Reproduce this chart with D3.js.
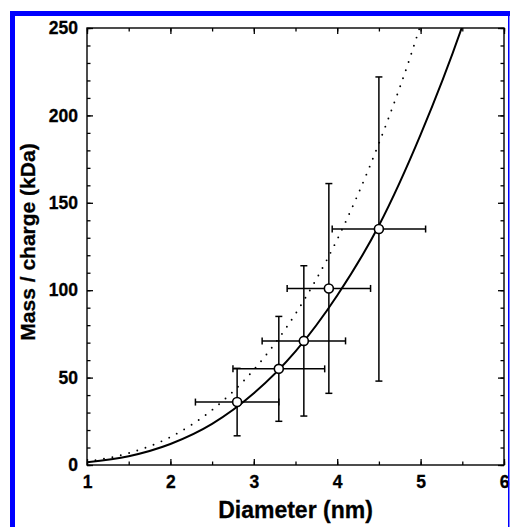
<!DOCTYPE html>
<html>
<head>
<meta charset="utf-8">
<script src="https://cdn.jsdelivr.net/npm/d3@7"></script>
<style>
  body { margin: 0; background: #fff; }
  text { font-family: "Liberation Sans", Arial, sans-serif; font-weight: bold; }
</style>
</head>
<body>
<div id="chart"></div>
<script>
// measured points (diameter nm, mass/charge kDa) with errors
const diam = [2.8, 3.3, 3.6, 3.9, 4.5];
const mass = [36, 55, 71, 101, 135];
const diamErr = [0.5, 0.55, 0.5, 0.5, 0.56];
const massErr = [19.3, 30, 43, 60, 87];

// fitted curves
const solidX = [1, 1.5, 2, 2.5, 3, 3.5, 4, 4.5, 5, 5.5, 5.6];
const solidY = [1.5, 5, 12, 23.5, 41, 65, 97, 137, 189, 251, 265];
const dotX = [1, 1.5, 2, 2.5, 3, 3.5, 4, 4.5, 5, 5.1];
const dotY = [2, 6.8, 16, 31.5, 54.5, 86.5, 129, 184, 252, 268];

const xTicks = [1, 2, 3, 4, 5, 6];
const yTicks = [0, 50, 100, 150, 200, 250];

let margin = {top: 28, right: 6, bottom: 62, left: 87},
  W = 510, H = 527,
  width = W - margin.left - margin.right,
  height = H - margin.top - margin.bottom;

let svg = d3.select("#chart").append("svg")
  .attr("width", W)
  .attr("height", H);

let g = svg.append("g")
  .attr("transform", "translate(" + margin.left + "," + margin.top + ")");

let x = d3.scaleLinear().domain([1, 6]).range([0, width]);
let y = d3.scaleLinear().domain([0, 250]).range([height, 0]);

g.append("clipPath").attr("id", "clip")
  .append("rect").attr("width", width).attr("height", height);

// curves
let line = d3.line().curve(d3.curveMonotoneX);
g.append("path")
  .attr("clip-path", "url(#clip)")
  .attr("d", line(dotX.map((d, i) => [x(d), y(dotY[i])])))
  .attr("fill", "none")
  .attr("stroke", "#000")
  .attr("stroke-width", 1.9)
  .attr("stroke-linecap", "round")
  .attr("stroke-dasharray", "0 8.6");
g.append("path")
  .attr("clip-path", "url(#clip)")
  .attr("d", line(solidX.map((d, i) => [x(d), y(solidY[i])])))
  .attr("fill", "none")
  .attr("stroke", "#000")
  .attr("stroke-width", 2);

// error bars
let pts = diam.map((d, i) => ({x: d, y: mass[i], ex: diamErr[i], ey: massErr[i]}));
let eb = g.append("g").attr("stroke", "#000").attr("stroke-width", 1.5).attr("fill", "none");
let cap = 3.5;
pts.forEach(p => {
  let cx = x(p.x), cy = y(p.y);
  let x0 = x(p.x - p.ex), x1 = x(p.x + p.ex);
  let y0 = y(p.y - p.ey), y1 = y(p.y + p.ey);
  eb.append("line").attr("x1", cx).attr("x2", cx).attr("y1", y0).attr("y2", y1);
  eb.append("line").attr("x1", cx - cap).attr("x2", cx + cap).attr("y1", y0).attr("y2", y0);
  eb.append("line").attr("x1", cx - cap).attr("x2", cx + cap).attr("y1", y1).attr("y2", y1);
  eb.append("line").attr("x1", x0).attr("x2", x1).attr("y1", cy).attr("y2", cy);
  eb.append("line").attr("x1", x0).attr("x2", x0).attr("y1", cy - cap).attr("y2", cy + cap);
  eb.append("line").attr("x1", x1).attr("x2", x1).attr("y1", cy - cap).attr("y2", cy + cap);
});

g.append("g").selectAll("circle")
  .data(pts)
  .join("circle")
  .attr("cx", d => x(d.x))
  .attr("cy", d => y(d.y))
  .attr("r", 4.5)
  .attr("fill", "#fff")
  .attr("stroke", "#000")
  .attr("stroke-width", 1.6);

// axes, ticks pointing inward on all four sides
function styleAxis(sel) {
  sel.select(".domain").remove();
  sel.selectAll(".tick line").attr("stroke", "#000").attr("stroke-width", 1.3);
}
function styleLabels(sel) {
  sel.selectAll("text").attr("font-size", 17.5).attr("fill", "#000")
    .attr("stroke", "#000").attr("stroke-width", 0.3)
    .style("font-family", "'Liberation Sans', Arial, sans-serif").style("font-weight", "bold");
}
let xMinor = d3.range(1, 6.01, 0.5), yMinor = d3.range(0, 250.1, 10);

let xb = g.append("g").attr("transform", "translate(0," + height + ")")
  .call(d3.axisTop(x).tickValues(xMinor).tickSize(3.5).tickFormat(""));
styleAxis(xb);
let xbM = g.append("g").attr("transform", "translate(0," + height + ")")
  .call(d3.axisTop(x).tickValues(xTicks).tickSize(6).tickFormat(""));
styleAxis(xbM);
let xl = g.append("g").attr("transform", "translate(0," + height + ")")
  .call(d3.axisBottom(x).tickValues(xTicks).tickSize(0).tickPadding(11).tickFormat(d3.format("d")));
styleAxis(xl);
styleLabels(xl);

let xt = g.append("g").call(d3.axisBottom(x).tickValues(xMinor).tickSize(3.5).tickFormat(""));
styleAxis(xt);
let xtM = g.append("g").call(d3.axisBottom(x).tickValues(xTicks).tickSize(6).tickFormat(""));
styleAxis(xtM);

let yl = g.append("g").call(d3.axisRight(y).tickValues(yMinor).tickSize(3.5).tickFormat(""));
styleAxis(yl);
let ylM = g.append("g").call(d3.axisRight(y).tickValues(yTicks).tickSize(6).tickFormat(""));
styleAxis(ylM);
let ylab = g.append("g").call(d3.axisLeft(y).tickValues(yTicks).tickSize(0).tickPadding(9).tickFormat(d3.format("d")));
styleAxis(ylab);
styleLabels(ylab);

let yr = g.append("g").attr("transform", "translate(" + width + ",0)")
  .call(d3.axisLeft(y).tickValues(yMinor).tickSize(3.5).tickFormat(""));
styleAxis(yr);
let yrM = g.append("g").attr("transform", "translate(" + width + ",0)")
  .call(d3.axisLeft(y).tickValues(yTicks).tickSize(6).tickFormat(""));
styleAxis(yrM);

g.append("rect")
  .attr("width", width).attr("height", height)
  .attr("fill", "none").attr("stroke", "#000").attr("stroke-width", 1.4);

// titles
svg.append("text")
  .attr("x", margin.left + width / 2)
  .attr("y", 518)
  .attr("text-anchor", "middle")
  .attr("font-size", 23)
  .attr("stroke", "#000").attr("stroke-width", 0.3)
  .text("Diameter (nm)");
svg.append("text")
  .attr("transform", "translate(35,242) rotate(-90)")
  .attr("text-anchor", "middle")
  .attr("font-size", 21)
  .attr("stroke", "#000").attr("stroke-width", 0.3)
  .text("Mass / charge (kDa)");

// blue frame of the figure
svg.append("rect").attr("x", 10).attr("y", 11).attr("width", W - 10).attr("height", 5).attr("fill", "#0000ff");
svg.append("rect").attr("x", 10).attr("y", 11).attr("width", 5).attr("height", H - 11).attr("fill", "#0000ff");
svg.append("rect").attr("x", 508).attr("y", 11).attr("width", 1.5).attr("height", H - 11).attr("fill", "#0000ff");
</script>
</body>
</html>
